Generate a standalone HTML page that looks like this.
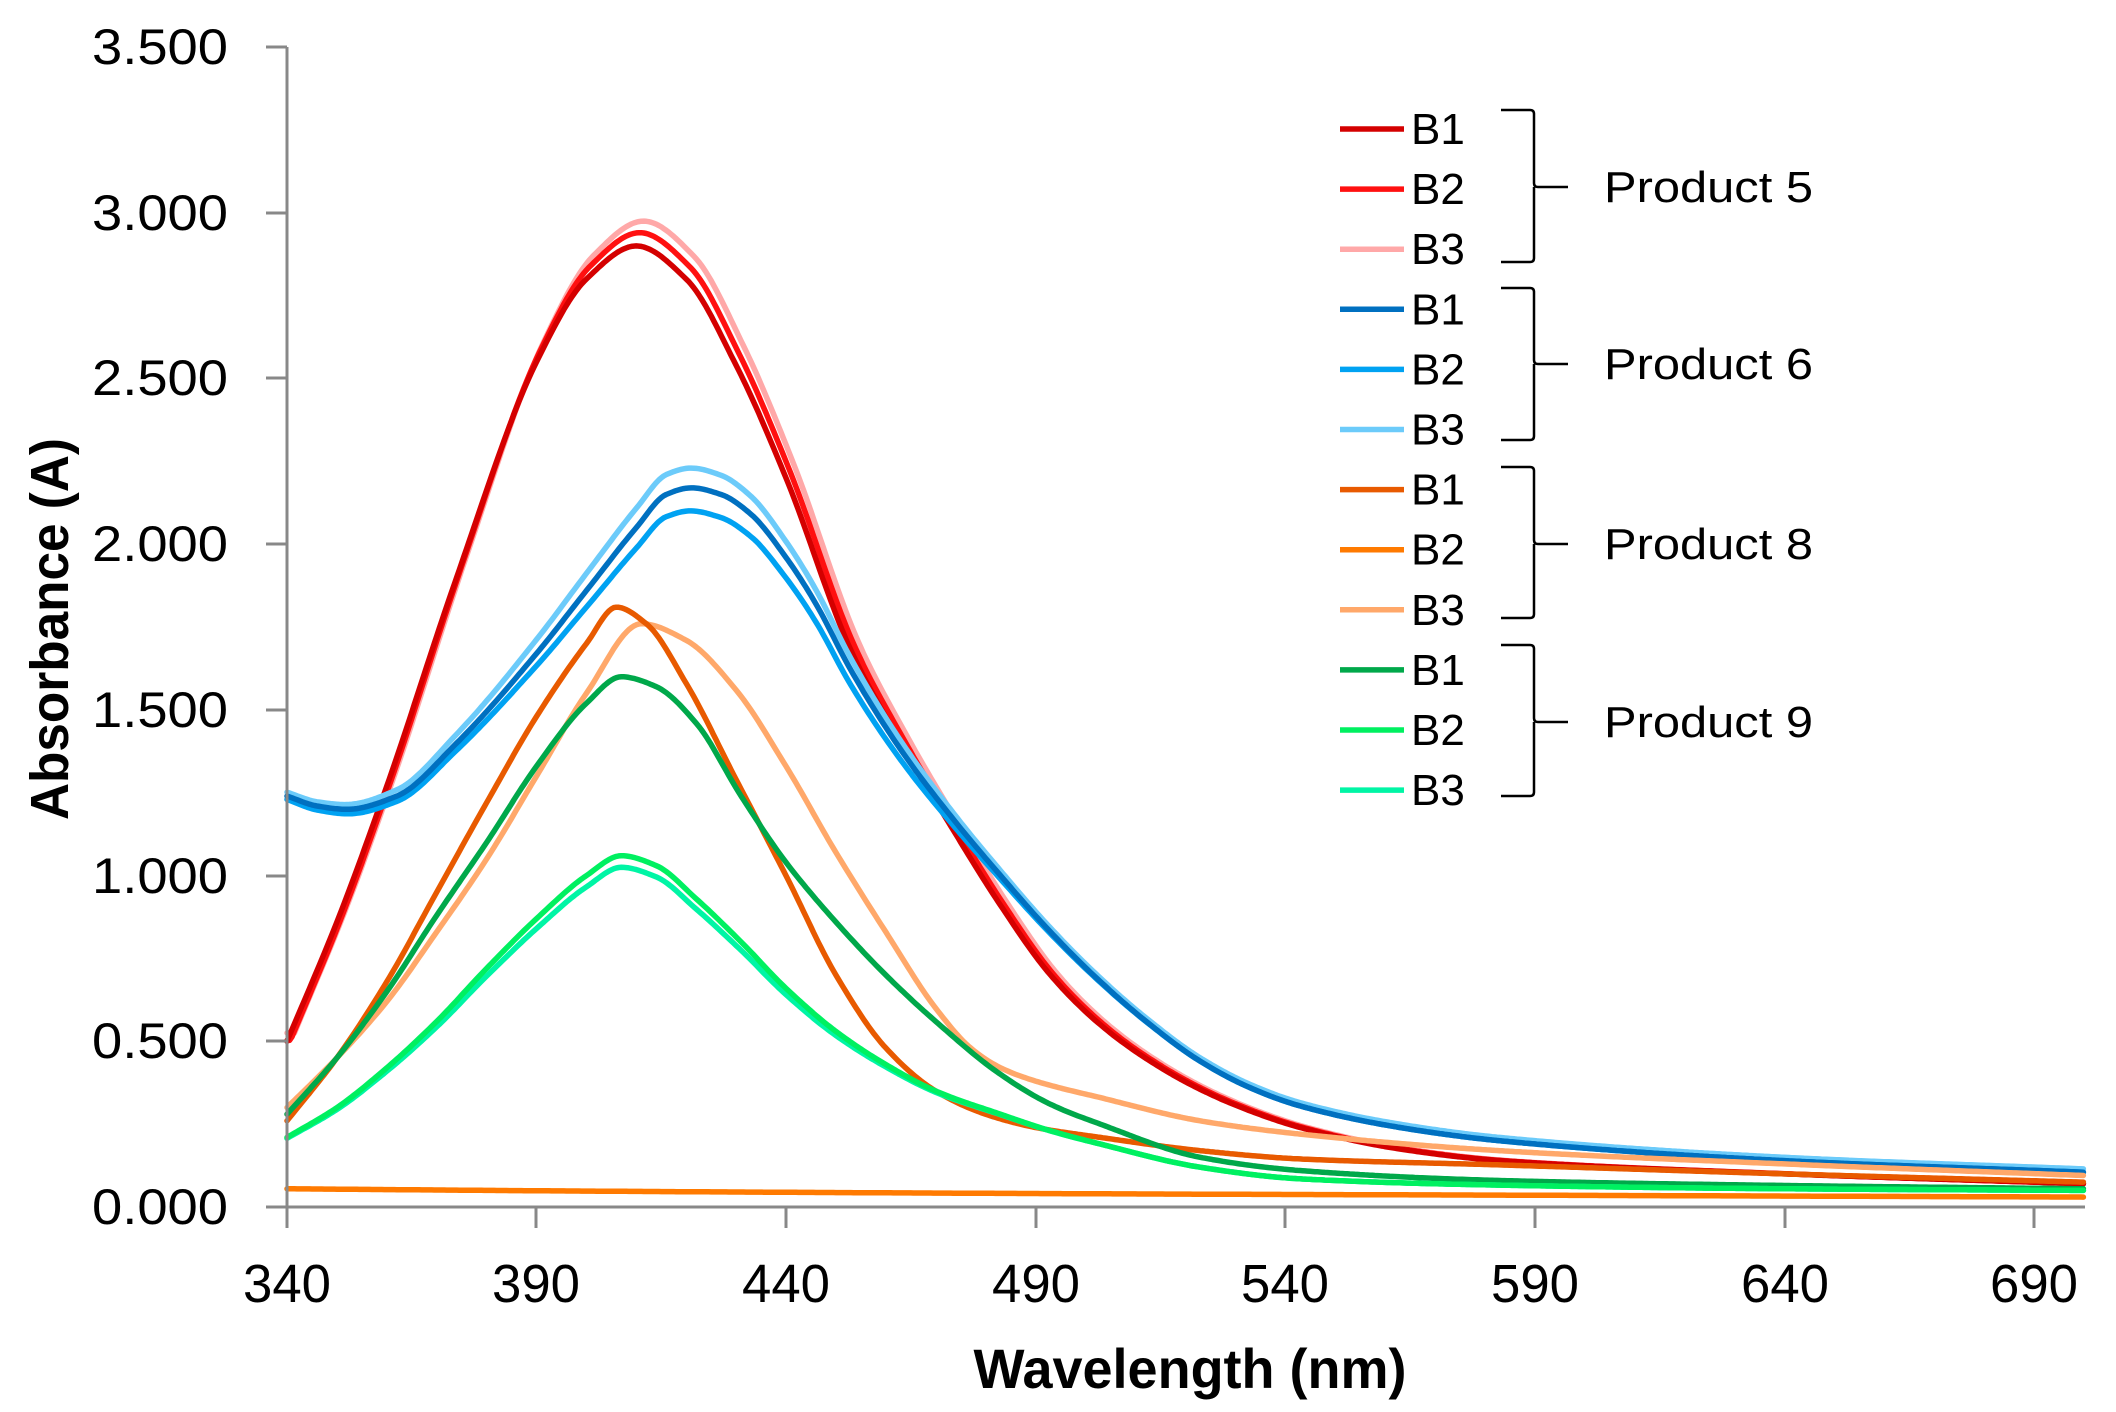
<!DOCTYPE html>
<html><head><meta charset="utf-8"><style>
html,body{margin:0;padding:0;background:#fff;}
svg{display:block;}
text{font-family:"Liberation Sans",sans-serif;fill:#000;}
</style></head><body>
<svg id="s" width="2116" height="1412" viewBox="0 0 2116 1412" xmlns="http://www.w3.org/2000/svg">
<g id="curves" fill="none" stroke-width="5.5" stroke-linejoin="round" stroke-linecap="round"></g>
<g stroke="#888" stroke-width="3" fill="none">
<line x1="287" y1="47" x2="287" y2="1207"/>
<line x1="266" y1="1207" x2="2085" y2="1207"/>
<line x1="266" y1="47" x2="287" y2="47"/><line x1="266" y1="213" x2="287" y2="213"/>
<line x1="266" y1="378" x2="287" y2="378"/><line x1="266" y1="544" x2="287" y2="544"/>
<line x1="266" y1="710" x2="287" y2="710"/><line x1="266" y1="876" x2="287" y2="876"/>
<line x1="266" y1="1041" x2="287" y2="1041"/>
<line x1="287" y1="1207" x2="287" y2="1228"/><line x1="536" y1="1207" x2="536" y2="1228"/>
<line x1="786" y1="1207" x2="786" y2="1228"/><line x1="1036" y1="1207" x2="1036" y2="1228"/>
<line x1="1285" y1="1207" x2="1285" y2="1228"/><line x1="1535" y1="1207" x2="1535" y2="1228"/>
<line x1="1785" y1="1207" x2="1785" y2="1228"/><line x1="2034" y1="1207" x2="2034" y2="1228"/>
</g>
<g font-size="50" text-anchor="end">
<text x="228" y="64" textLength="136" lengthAdjust="spacingAndGlyphs">3.500</text>
<text x="228" y="230" textLength="136" lengthAdjust="spacingAndGlyphs">3.000</text>
<text x="228" y="395" textLength="136" lengthAdjust="spacingAndGlyphs">2.500</text>
<text x="228" y="561" textLength="136" lengthAdjust="spacingAndGlyphs">2.000</text>
<text x="228" y="727" textLength="136" lengthAdjust="spacingAndGlyphs">1.500</text>
<text x="228" y="893" textLength="136" lengthAdjust="spacingAndGlyphs">1.000</text>
<text x="228" y="1058" textLength="136" lengthAdjust="spacingAndGlyphs">0.500</text>
<text x="228" y="1224" textLength="136" lengthAdjust="spacingAndGlyphs">0.000</text>
</g>
<g font-size="54" text-anchor="middle">
<text x="287" y="1302" textLength="88" lengthAdjust="spacingAndGlyphs">340</text>
<text x="536" y="1302" textLength="88" lengthAdjust="spacingAndGlyphs">390</text>
<text x="786" y="1302" textLength="88" lengthAdjust="spacingAndGlyphs">440</text>
<text x="1036" y="1302" textLength="88" lengthAdjust="spacingAndGlyphs">490</text>
<text x="1285" y="1302" textLength="88" lengthAdjust="spacingAndGlyphs">540</text>
<text x="1535" y="1302" textLength="88" lengthAdjust="spacingAndGlyphs">590</text>
<text x="1785" y="1302" textLength="88" lengthAdjust="spacingAndGlyphs">640</text>
<text x="2034" y="1302" textLength="88" lengthAdjust="spacingAndGlyphs">690</text>
</g>
<text x="1190" y="1388" font-size="56" font-weight="bold" text-anchor="middle" textLength="433" lengthAdjust="spacingAndGlyphs">Wavelength (nm)</text>
<text transform="translate(68,629) rotate(-90)" font-size="54" font-weight="bold" text-anchor="middle" textLength="382" lengthAdjust="spacingAndGlyphs">Absorbance (A)</text>
<g id="legend"></g>
<g stroke="#000" stroke-width="2.5" fill="none">
<path d="M1501,110 L1530,110 Q1534,110 1534,114 L1534,183 Q1534,187 1538,187 L1568,187 M1534,187 L1534,258 Q1534,262 1530,262 L1501,262"/>
<path d="M1501,288 L1530,288 Q1534,288 1534,292 L1534,360 Q1534,364 1538,364 L1568,364 M1534,364 L1534,436 Q1534,440 1530,440 L1501,440"/>
<path d="M1501,467 L1530,467 Q1534,467 1534,471 L1534,540 Q1534,544 1538,544 L1568,544 M1534,544 L1534,614 Q1534,618 1530,618 L1501,618"/>
<path d="M1501,645 L1530,645 Q1534,645 1534,649 L1534,718 Q1534,722 1538,722 L1568,722 M1534,722 L1534,792 Q1534,796 1530,796 L1501,796"/>
</g>
<g font-size="44">
<text x="1604" y="202" textLength="209" lengthAdjust="spacingAndGlyphs">Product 5</text>
<text x="1604" y="379" textLength="209" lengthAdjust="spacingAndGlyphs">Product 6</text>
<text x="1604" y="559" textLength="209" lengthAdjust="spacingAndGlyphs">Product 8</text>
<text x="1604" y="737" textLength="209" lengthAdjust="spacingAndGlyphs">Product 9</text>
</g>
</svg>
<script>
function X(w){return 287+(w-340)*4.99;}
function Y(a){return 1207-a*331.4;}
function pchip(pts){
 var n=pts.length,xs=pts.map(p=>p[0]),ys=pts.map(p=>p[1]),h=[],d=[],m=[];
 for(var i=0;i<n-1;i++){h[i]=xs[i+1]-xs[i];d[i]=(ys[i+1]-ys[i])/h[i];}
 m[0]=d[0];m[n-1]=d[n-2];
 for(i=1;i<n-1;i++){ if(d[i-1]*d[i]<=0)m[i]=0; else {var w1=2*h[i]+h[i-1],w2=h[i]+2*h[i-1];m[i]=(w1+w2)/(w1/d[i-1]+w2/d[i]);}}
 return function(x){if(x<xs[0])x=xs[0];var k=0;while(k<n-2&&x>xs[k+1])k++;var t=(x-xs[k])/h[k],t2=t*t,t3=t2*t;
  return (2*t3-3*t2+1)*ys[k]+(t3-2*t2+t)*h[k]*m[k]+(-2*t3+3*t2)*ys[k+1]+(t3-t2)*h[k]*m[k+1];};
}
function P(a){var r=[];for(var i=0;i<a.length;i+=2)r.push([a[i],a[i+1]]);return r;}
var R=pchip(P([340,.5,350,.86,360,1.27,374,1.9,390,2.55,400,2.8,410,2.9,420,2.8,430,2.54,440,2.2,453,1.68,463,1.4,473,1.15,483,.91,493,.7,503,.55,513,.44,523,.355,533,.29,543,.24,563,.175,583,.14,640,.10,700,.07]));
var p6=pchip(P([340,1.24,346,1.21,352,1.2,362,1.24,374,1.4,390,1.67,400,1.86,410,2.05,416,2.15,421,2.17,427,2.15,433,2.09,440,1.96,446,1.82,453,1.62,463,1.38,473,1.18,483,1.0,493,.83,503,.68,513,.55,523,.44,533,.36,543,.305,563,.24,583,.2,640,.14,700,.105]));
var p81=pchip(P([340,.26,350,.45,360,.68,370,.95,380,1.22,390,1.48,400,1.7,406,1.81,412,1.76,420,1.58,430,1.29,440,1.0,450,.7,460,.48,470,.35,480,.28,490,.24,503,.21,523,.17,543,.145,583,.127,640,.1,700,.075]));
var p83=pchip(P([340,.3,350,.45,360,.62,370,.83,380,1.05,390,1.3,400,1.55,411,1.76,420,1.71,430,1.56,440,1.33,450,1.07,460,.83,470,.6,477,.48,483,.42,490,.38,503,.33,523,.26,543,.22,583,.17,640,.13,700,.095]));
var p82=pchip(P([340,.055,400,.048,500,.04,600,.035,700,.03]));
var p91=pchip(P([340,.28,350,.45,360,.65,370,.88,380,1.1,390,1.33,400,1.52,407,1.6,414,1.57,422,1.46,431,1.24,440,1.04,450,.86,460,.7,470,.56,483,.4,493,.31,503,.25,523,.15,543,.11,583,.08,640,.065,700,.055]));
var p92=pchip(P([340,.21,350,.3,360,.42,370,.56,380,.72,390,.87,400,1.0,407,1.06,414,1.03,422,.93,431,.8,440,.66,450,.53,460,.43,470,.35,483,.28,493,.23,503,.19,523,.12,543,.085,583,.066,640,.055,700,.05]));
function g(w,c,s){return Math.exp(-(w-c)*(w-c)/(2*s*s));}
var series=[
 ['#ffa8a8',function(w){return R(w-1.5)+0.075*g(w,410,30)+0.02*g(w,340,20);}],
 ['#ff1010',function(w){return R(w-0.7)+0.04*g(w,410,30);}],
 ['#d40000',R],
 ['#6ccbfa',function(w){return p6(w)+0.05*g(w,418,30)+0.01;}],
 ['#00a2f2',function(w){return p6(w)-0.07*g(w,425,30)-0.01*g(w,350,20);}],
 ['#0070c0',p6],
 ['#ffa86a',p83],
 ['#e85a00',p81],
 ['#00a84a',p91],
 ['#00f5a5',function(w){return p92(w)-0.035*g(w,407,30);}],
 ['#00f060',p92],
 ['#ff7a00',p82]
];
var cg=document.getElementById('curves'),NS='http://www.w3.org/2000/svg';
series.forEach(function(s){var d='';for(var w=340;w<=700.3;w+=0.5){d+=(w==340?'M':'L')+X(w).toFixed(1)+','+Y(s[1](w)).toFixed(1);}
 var p=document.createElementNS(NS,'path');p.setAttribute('d',d);p.setAttribute('stroke',s[0]);cg.appendChild(p);});
var lc=['#d40000','#ff1010','#ffa8a8','#0070c0','#00a2f2','#6ccbfa','#e85a00','#ff7a00','#ffa86a','#00a84a','#00f060','#00f5a5'];
var lg=document.getElementById('legend');
lc.forEach(function(c,i){var y=129+i*60.1;
 var l=document.createElementNS(NS,'line');l.setAttribute('x1',1340);l.setAttribute('x2',1404);l.setAttribute('y1',y);l.setAttribute('y2',y);l.setAttribute('stroke',c);l.setAttribute('stroke-width',5.5);lg.appendChild(l);
 var t=document.createElementNS(NS,'text');t.setAttribute('x',1411);t.setAttribute('y',y+15);t.setAttribute('font-size',44);t.textContent='B'+(i%3+1);lg.appendChild(t);});
</script>
</body></html>
